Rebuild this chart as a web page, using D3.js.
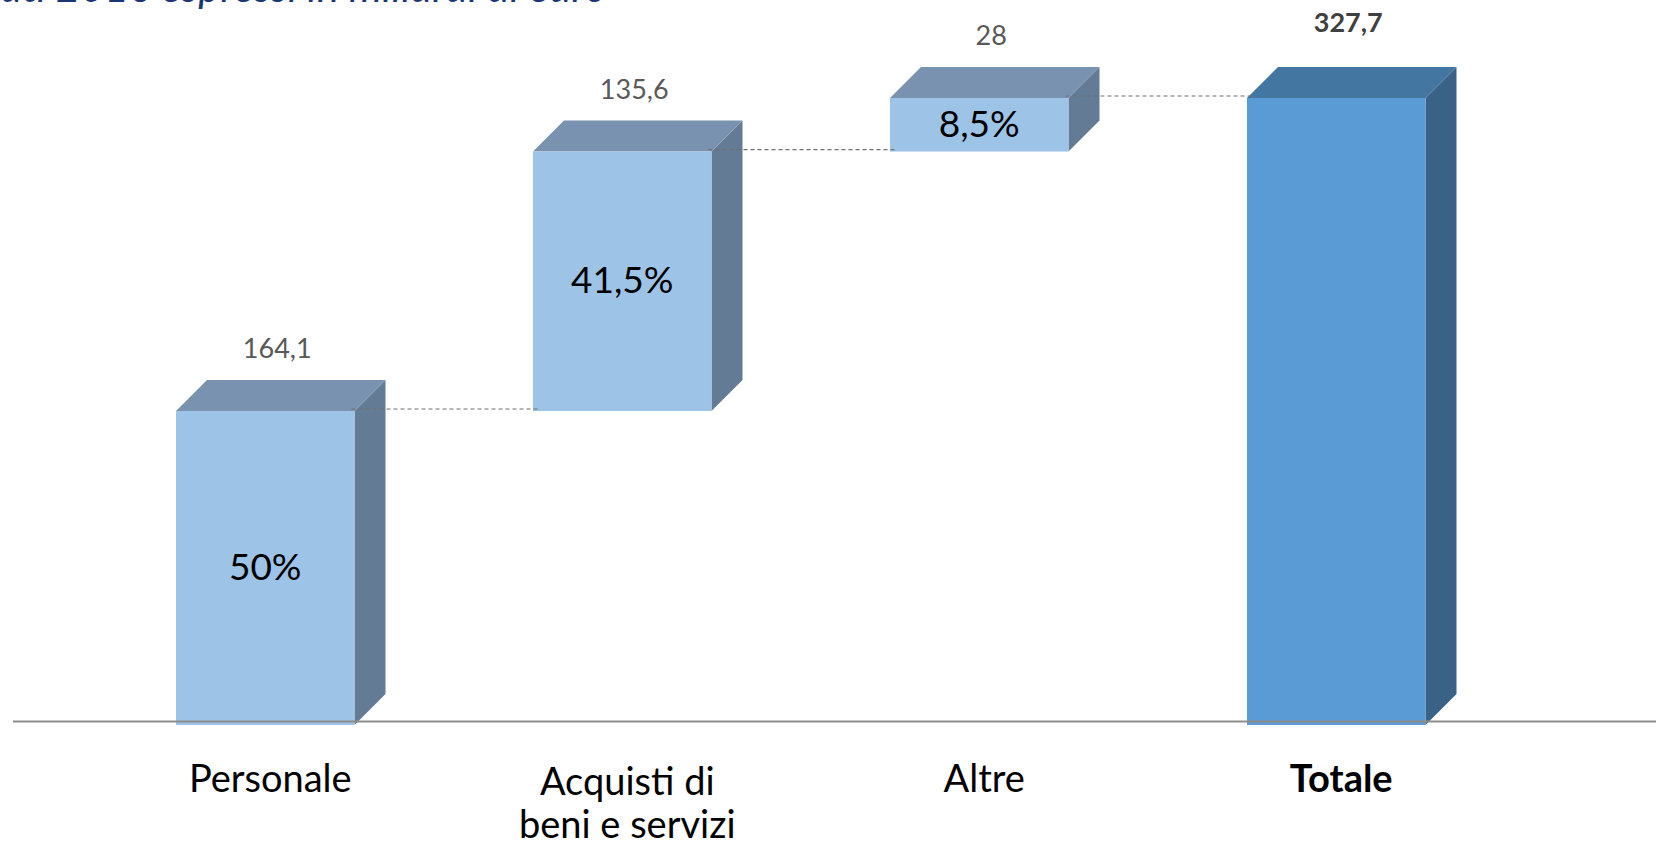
<!DOCTYPE html>
<html>
<head>
<meta charset="utf-8">
<script src="https://cdn.jsdelivr.net/npm/d3@7"></script>
<style>
  body { margin: 0; background: #fff; }
  svg { display: block; font-family: Lato, "Open Sans", sans-serif; }
</style>
</head>
<body>
<svg id="chart" width="1656" height="848"></svg>
<script>
// data (miliardi di euro, 2016)
var categories = ['Personale', 'Acquisti di beni e servizi', 'Altre', 'Totale'];
var catLines = [['Personale'], ['Acquisti di', 'beni e servizi'], ['Altre'], ['Totale']];
var values = [164.1, 135.6, 28, 327.7];
var isTotal = [false, false, false, true];
var shares = ['50%', '41,5%', '8,5%', ''];
var title = 'Dati 2016 espressi in miliardi di euro';

var svg = d3.select('#chart');

var depth = 31;

// waterfall start/end per bar
var rows = [];
var running = 0;
values.forEach(function(v, i) {
  var start = isTotal[i] ? 0 : running;
  var end = isTotal[i] ? v : running + v;
  if (!isTotal[i]) running += v;
  rows.push({cat: categories[i], lines: catLines[i], value: v, start: start, end: end, total: isTotal[i], share: shares[i]});
});

var x = d3.scaleBand()
    .domain(categories)
    .range([176, 1425.5])
    .paddingInner(0.5)
    .paddingOuter(0);

var y = d3.scaleLinear()
    .domain([0, 327.7])
    .range([725, 98]);

var w = x.bandwidth();

// title (cut by top edge, as in the original slide)
svg.append('text')
    .attr('x', 607)
    .attr('y', 2)
    .attr('text-anchor', 'end')
    .attr('font-style', 'italic')
    .attr('font-size', 42)
    .attr('fill', '#1b3675')
    .text(title);

var bars = svg.selectAll('g.bar')
    .data(rows)
    .enter()
    .append('g')
    .attr('class', 'bar');

// side face
bars.append('path')
    .attr('fill', function(d) { return d.total ? '#3a6287' : '#637b95'; })
    .attr('d', function(d) {
      var x0 = x(d.cat) + w, yt = y(d.end), yb = y(d.start);
      return 'M' + x0 + ',' + yt + 'L' + (x0 + depth) + ',' + (yt - depth) +
        'L' + (x0 + depth) + ',' + (yb - depth) + 'L' + x0 + ',' + yb + 'Z';
    });

// top face
bars.append('path')
    .attr('fill', function(d) { return d.total ? '#4476a2' : '#7892b0'; })
    .attr('d', function(d) {
      var x0 = x(d.cat), yt = y(d.end);
      return 'M' + x0 + ',' + yt + 'L' + (x0 + depth) + ',' + (yt - depth) +
        'L' + (x0 + w + depth) + ',' + (yt - depth) + 'L' + (x0 + w) + ',' + yt + 'Z';
    });

// front face
bars.append('rect')
    .attr('x', function(d) { return x(d.cat); })
    .attr('y', function(d) { return y(d.end); })
    .attr('width', w)
    .attr('height', function(d) { return y(d.start) - y(d.end); })
    .attr('fill', function(d) { return d.total ? '#5b9bd5' : '#9dc3e6'; });

// percentage inside bars
bars.append('text')
    .attr('x', function(d) { return x(d.cat) + w / 2; })
    .attr('y', function(d) { return (y(d.start) + y(d.end)) / 2 + 12; })
    .attr('text-anchor', 'middle')
    .attr('font-size', 37)
    .attr('fill', '#000')
    .text(function(d) { return d.share; });

// value labels above bars
bars.append('text')
    .attr('x', function(d) { return x(d.cat) + w / 2 + 12; })
    .attr('y', function(d) { return y(d.end) - depth - (d.total ? 35 : 22); })
    .attr('text-anchor', 'middle')
    .attr('font-size', 27)
    .attr('font-weight', function(d) { return d.total ? 'bold' : 'normal'; })
    .attr('fill', function(d) { return d.total ? '#404040' : '#595959'; })
    .text(function(d) { return String(d.value).replace('.', ','); });

// connector lines, drawn over the bar edges
var connG = svg.append('g').attr('class', 'connectors');
rows.forEach(function(d, i) {
  if (i == rows.length - 1) return;
  var next = rows[i + 1];
  connG.append('line')
    .attr('x1', x(d.cat) + w - 3)
    .attr('x2', x(next.cat) + 6)
    .attr('y1', y(d.end) - 2)
    .attr('y2', y(d.end) - 2)
    .attr('stroke', '#707070')
    .attr('stroke-width', 1.2)
    .attr('stroke-dasharray', '4,3');
});

// baseline
svg.append('line')
    .attr('x1', 13)
    .attr('x2', 1656)
    .attr('y1', 721.5)
    .attr('y2', 721.5)
    .attr('stroke', '#8c8c8c')
    .attr('stroke-width', 2);

// category labels
var catText = svg.selectAll('text.cat')
    .data(rows)
    .enter()
    .append('text')
    .attr('class', 'cat')
    .attr('text-anchor', 'middle')
    .attr('font-size', 38)
    .attr('font-weight', function(d) { return d.total ? 'bold' : 'normal'; })
    .attr('fill', '#000');

catText.selectAll('tspan')
    .data(function(d) {
      var off = d.lines.length > 1 ? 3 : 0;
      return d.lines.map(function(l) { return {l: l, off: off, cx: x(d.cat) + w / 2 + 5}; });
    })
    .enter()
    .append('tspan')
    .attr('x', function(t) { return t.cx; })
    .attr('y', function(t, i) { return 792 + t.off + i * 43; })
    .text(function(t) { return t.l; });
</script>
</body>
</html>
